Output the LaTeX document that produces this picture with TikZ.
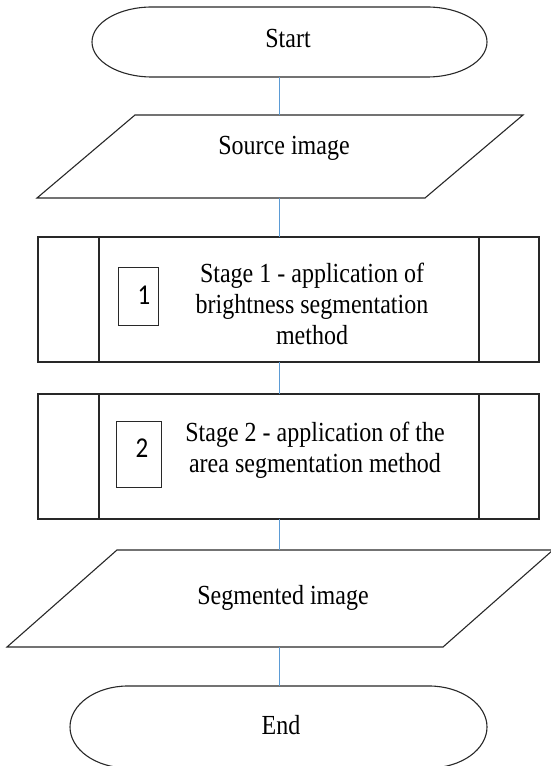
\documentclass[tikz,border=0pt]{standalone}
\usepackage{fontspec}
\usepackage{graphicx}
\setmainfont{Liberation Serif}
\newfontfamily\digitfont{Carlito}
% slightly tall lettering
\newcommand{\tallx}[1]{\scalebox{1}[1.15]{#1}}
\definecolor{linkblue}{RGB}{91,155,213}
\definecolor{edge}{RGB}{40,40,40}

\tikzset{
  outline/.style={draw=edge, line width=1.1pt, line join=miter},
  frame/.style={inner sep=0pt, outer sep=0pt},
  numbox/.style={draw=edge, line width=1pt, inner sep=0pt, outer sep=0pt},
  link/.style={draw=linkblue, line width=1pt},
  txt/.style={inner sep=0pt, font=\fontsize{24}{31}\selectfont, align=center},
  numtxt/.style={inner sep=0pt, font=\digitfont\fontsize{25}{30}\selectfont},
}

\begin{document}
\begin{tikzpicture}[x=1pt,y=1pt]
\useasboundingbox (0,0) rectangle (550,766);
\coordinate (spine) at (279,0);

% outer frames of the flowchart blocks
\node[frame, minimum width=395pt, minimum height=70pt]  (start) at (289.5,724) {};
\node[frame, minimum width=388pt, minimum height=83pt]  (src)   at (280,609.5) {};
\node[frame, minimum width=501pt, minimum height=125pt] (st1)   at (288.5,466.5) {};
\node[frame, minimum width=501pt, minimum height=125pt] (st2)   at (288.5,309.5) {};
\node[frame, minimum width=436pt, minimum height=97pt]  (seg)   at (280,167.5) {};
\node[frame, minimum width=417pt, minimum height=82pt]  (stop)  at (278.5,39) {};

% terminal: Start
\draw[outline] ([xshift=60pt]start.north west) -- ([xshift=-60pt]start.north east)
  arc[start angle=90, end angle=-90, x radius=60, y radius=35]
  -- ([xshift=60pt]start.south west)
  arc[start angle=270, end angle=90, x radius=60, y radius=35] -- cycle;

% input: source image
\draw[outline] ([xshift=49pt]src.north west) -- ([xshift=49pt]src.north east)
  -- ([xshift=-49pt]src.south east) -- ([xshift=-49pt]src.south west) -- cycle;

% predefined processes: the two stages
\foreach \b in {st1,st2}{
  \draw[outline] (\b.north west) rectangle (\b.south east);
  \draw[outline] ([xshift=61pt]\b.north west) -- ([xshift=61pt]\b.south west);
  \draw[outline] ([xshift=-60pt]\b.north east) -- ([xshift=-60pt]\b.south east);
}

% output: segmented image
\draw[outline] ([xshift=55pt]seg.north west) -- ([xshift=55pt]seg.north east)
  -- ([xshift=-55pt]seg.south east) -- ([xshift=-55pt]seg.south west) -- cycle;

% terminal: End
\draw[outline] ([xshift=58pt]stop.north west) -- ([xshift=-58pt]stop.north east)
  arc[start angle=90, end angle=-90, x radius=58, y radius=41]
  -- ([xshift=58pt]stop.south west)
  arc[start angle=270, end angle=90, x radius=58, y radius=41] -- cycle;

% stage number boxes
\node[numbox, minimum width=40.5pt, minimum height=57.5pt] (n1) at (138.5,469.5) {};
\node[numbox, minimum width=45pt, minimum height=66pt]     (n2) at (139,311) {};
\node[numtxt, anchor=base] (n1t) at (144,461.7) {\tallx{1}};
\node[numtxt, anchor=base] (n2t) at (142,308) {\tallx{2}};

% block texts
\node[txt, anchor=base] (startt) at (288,718) {\tallx{Start}};
\node[txt, anchor=base] (srct)   at (284,611) {\tallx{Source image}};
\node[txt, anchor=north] (st1t)  at (312,503.4)
  {\tallx{Stage 1 - application of}\\\tallx{brightness segmentation}\\\tallx{method}};
\node[txt, anchor=north] (st2t)  at (315,344)
  {\tallx{Stage 2 - application of the}\\\tallx{area segmentation method}};
\node[txt, anchor=base] (segt)   at (283,161) {\tallx{Segmented image}};
\node[txt, anchor=base] (stopt)  at (281,31) {\tallx{End}};

% connectors along the main axis
\draw[link] (start.south -| spine) -- (src.north -| spine);
\draw[link] (src.south -| spine)   -- (st1.north -| spine);
\draw[link] (st1.south -| spine)   -- (st2.north -| spine);
\draw[link] (st2.south -| spine)   -- (seg.north -| spine);
\draw[link] (seg.south -| spine)   -- (stop.north -| spine);
\end{tikzpicture}
\end{document}
